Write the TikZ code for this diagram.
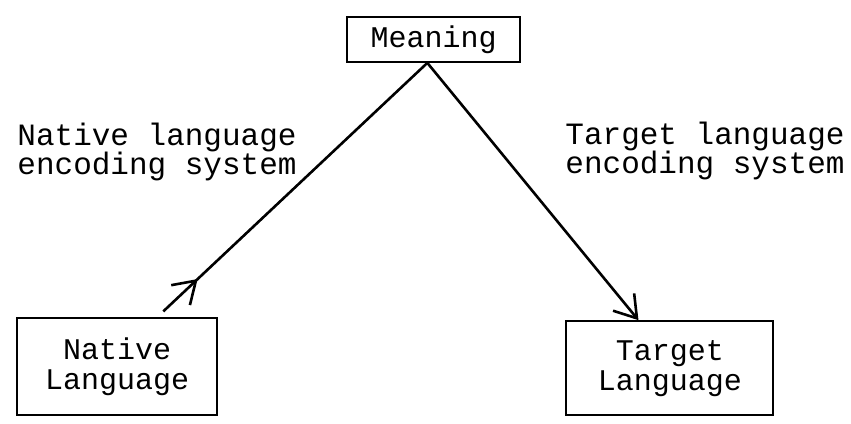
\documentclass[tikz,border=0pt]{standalone}
\usepackage{fontspec}
\setmonofont{Liberation Mono}
\usetikzlibrary{arrows.meta,decorations.markings}

\begin{document}
\begin{tikzpicture}[
    box/.style={draw, line width=1.1pt, font=\ttfamily\fontsize{15}{15}\selectfont, align=center, inner sep=0pt},
    lbl/.style={font=\ttfamily\fontsize{15.5}{14.4}\selectfont, execute at begin node={\lineskiplimit=-6pt\relax}, align=left, anchor=north west, inner sep=0pt},
    link/.style={line width=1.3pt},
    barb/.tip={Straight Barb[length=0.37cm, width=0.48cm]}
]
    \useasboundingbox (0,0) rectangle (14.955,7.451);
    \node[box, minimum width=3.04cm, minimum height=0.79cm] (meaning) at (7.62,6.76) {Meaning};
    \node[box, minimum width=3.52cm, minimum height=1.7cm] (native) at (2.06,1.01) {Native\\Language};
    \node[box, minimum width=3.64cm, minimum height=1.65cm] (target) at (11.77,0.98) {Target\\Language};
    \node[lbl] (natlbl) at (0.30,5.29) {Native language\\encoding system};
    \node[lbl] (tgtlbl) at (9.93,5.31) {Target language\\encoding system};

    % the two encoding systems meet under the meaning box
    \coordinate (apex) at ([xshift=-0.11cm]meaning.south);
    \draw[link, postaction={decorate, decoration={markings, mark=at position 0.13 with {\arrow{barb}}}}]
        ([shift={(0.81,0.1)}]native.north) -- (apex);
    \draw[link, -barb] (apex) -- ([xshift=-0.55cm]target.north);
\end{tikzpicture}
\end{document}
